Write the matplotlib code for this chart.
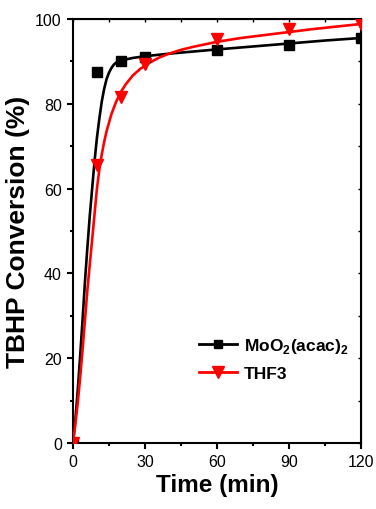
import matplotlib
matplotlib.use("Agg")
import matplotlib.pyplot as plt
from matplotlib.ticker import MultipleLocator

plt.rcParams["font.family"] = ["Liberation Sans", "DejaVu Sans"]
plt.rcParams["mathtext.fontset"] = "custom"
plt.rcParams["mathtext.bf"] = "Liberation Sans:bold"
plt.rcParams["mathtext.rm"] = "Liberation Sans:bold"

# Measured points
time_pts = [0, 10, 20, 30, 60, 90, 120]
moo2_pts = [0, 87.6, 90.0, 91.0, 92.7, 93.9, 95.4]
thf3_pts = [0, 65.6, 81.5, 89.4, 95.3, 97.6, 98.9]

# Fitted curves
moo2_fit_t = [0, 1, 2, 3, 4, 5, 6, 7, 8, 9, 10, 11, 12, 13, 14, 15, 16, 17, 18,
              20, 25, 30, 40, 50, 60, 75, 90, 105, 120]
moo2_fit_v = [0, 5.5, 12.5, 20.5, 29, 38, 46, 53.5, 60, 66.5, 72, 76.5, 80.5,
              83.5, 85.8, 87.3, 88.4, 89.2, 89.7, 90.2, 90.8, 91.2, 91.8, 92.3,
              92.8, 93.5, 94.2, 94.9, 95.5]
thf3_fit_t = [0, 1, 2, 3, 4, 5, 6, 7, 8, 9, 10, 11, 12, 13, 14, 16, 18, 20, 22,
              25, 28, 32, 36, 40, 45, 50, 60, 70, 80, 90, 100, 110, 120]
thf3_fit_v = [0, 4.5, 9.5, 15.5, 22, 29, 36, 42, 48, 54, 60, 64.5, 68, 71, 73.5,
              77.5, 80.5, 82.8, 84.6, 86.7, 88.2, 89.7, 90.9, 91.8, 92.7, 93.4,
              94.6, 95.5, 96.2, 96.9, 97.6, 98.2, 98.8]

fig = plt.figure(figsize=(3.76, 5.10), dpi=100)
ax = fig.add_axes([0.194, 0.129, 0.766, 0.832])

ax.plot(moo2_fit_t, moo2_fit_v, color="black", lw=1.9, zorder=3)
ax.plot(thf3_fit_t, thf3_fit_v, color="red", lw=1.9, zorder=3)
ax.plot(time_pts, moo2_pts, ls="none", marker="s", ms=7.5, color="black", zorder=4)
ax.plot(time_pts, thf3_pts, ls="none", marker="v", ms=9, color="red", zorder=4)

# legend proxies
ax.plot([], [], color="black", lw=2.0, marker="s", ms=6,
        label=r"MoO$_\mathbf{2}$(acac)$_\mathbf{2}$")
ax.plot([], [], color="red", lw=2.0, marker="v", ms=8, label="THF3")
leg = ax.legend(loc="lower right", bbox_to_anchor=(1.01, 0.11), frameon=False,
                prop={"weight": "bold", "size": 12.5}, handlelength=2.2,
                handletextpad=0.35, labelspacing=0.6)

ax.set_xlim(0, 120)
ax.set_ylim(0, 100)
ax.xaxis.set_major_locator(MultipleLocator(30))
ax.xaxis.set_minor_locator(MultipleLocator(15))
ax.yaxis.set_major_locator(MultipleLocator(20))
ax.yaxis.set_minor_locator(MultipleLocator(10))

for s in ax.spines.values():
    s.set_linewidth(1.5)
ax.tick_params(which="both", direction="out", width=1.5, labelsize=11.5,
               top=False, right=False)
ax.tick_params(which="major", length=4.5)
ax.tick_params(which="minor", length=2.5)

sec_x = ax.secondary_xaxis("top")
sec_x.xaxis.set_major_locator(MultipleLocator(15))
sec_x.tick_params(direction="in", length=2.5, width=1.0, labeltop=False)
sec_y = ax.secondary_yaxis("right")
sec_y.yaxis.set_major_locator(MultipleLocator(10))
sec_y.tick_params(direction="in", length=2.5, width=1.0, labelright=False)

ax.set_xlabel("Time (min)", fontsize=17.5, fontweight="bold", labelpad=3)
ax.set_ylabel("TBHP Conversion (%)", fontsize=19, fontweight="bold", labelpad=4)

fig.savefig("out.png", dpi=100)
